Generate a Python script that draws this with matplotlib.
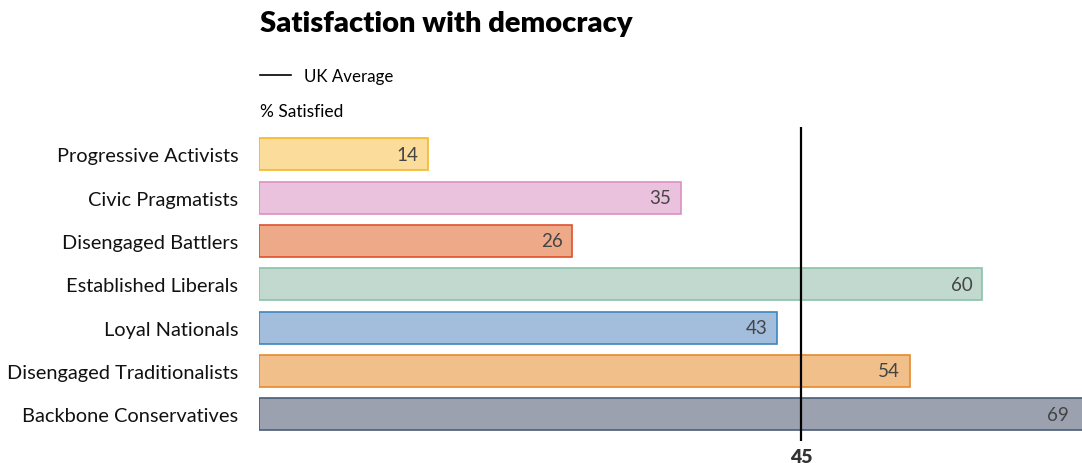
import matplotlib.pyplot as plt

# survey segments, top to bottom
segments = ["Progressive Activists", "Civic Pragmatists", "Disengaged Battlers",
            "Established Liberals", "Loyal Nationals", "Disengaged Traditionalists",
            "Backbone Conservatives"]
satisfied = [14, 35, 26, 60, 43, 54, 69]
uk_average = 45

fills = ["#FBDC9B", "#EAC2DE", "#EEAA88", "#C1D9CF", "#A3BEDD", "#F1BF8A", "#9CA1AF"]
edges = ["#F5B72A", "#DC90C3", "#E0502A", "#8CC1AC", "#3D86BE", "#E8892E", "#4A5E78"]

plt.rcParams['font.family'] = ['Lato', 'DejaVu Sans']

fig = plt.figure(figsize=(10.82, 4.64), dpi=100)
ax = fig.add_axes([259 / 1082, 1 - 442 / 464, 1 - 259 / 1082, (442 - 128) / 464])

xmax = 68.3
pos = list(range(len(segments)))
ax.barh(pos, satisfied, height=0.74, color=fills, edgecolor=edges, linewidth=1.2)
for y, v in zip(pos, satisfied):
    # keep the label inside the plotting area when the bar runs past it
    ax.text(min(v, xmax - 0.3) - 0.8, y, str(v), ha='right', va='center',
            fontsize=13.5, color='#444444')

ax.axvline(uk_average, color='black', lw=1.6)

ax.set_xlim(0, xmax)
ax.set_ylim(6.62, -0.63)
ax.set_yticks(pos)
ax.set_yticklabels(segments, fontsize=14.4, color='#111111')
ax.set_xticks([uk_average])
ax.set_xticklabels([str(uk_average)], fontsize=14, fontweight='heavy', color='#333333')
ax.tick_params(length=0)
ax.tick_params(axis='y', pad=15)
ax.tick_params(axis='x', pad=5)
for s in ax.spines.values():
    s.set_visible(False)

fig.text(260 / 1082, 1 - 24 / 464, "Satisfaction with democracy", fontsize=21,
         fontweight='heavy', va='center', ha='left')
fig.lines.append(plt.Line2D([260 / 1082, 291 / 1082], [1 - 76 / 464] * 2,
                            transform=fig.transFigure, color='black', lw=1.2))
fig.text(304 / 1082, 1 - 77 / 464, "UK Average", fontsize=12.2, va='center', ha='left')
fig.text(260 / 1082, 1 - 112 / 464, "% Satisfied", fontsize=12.5, va='center', ha='left')

fig.savefig("out.png", dpi=100)
